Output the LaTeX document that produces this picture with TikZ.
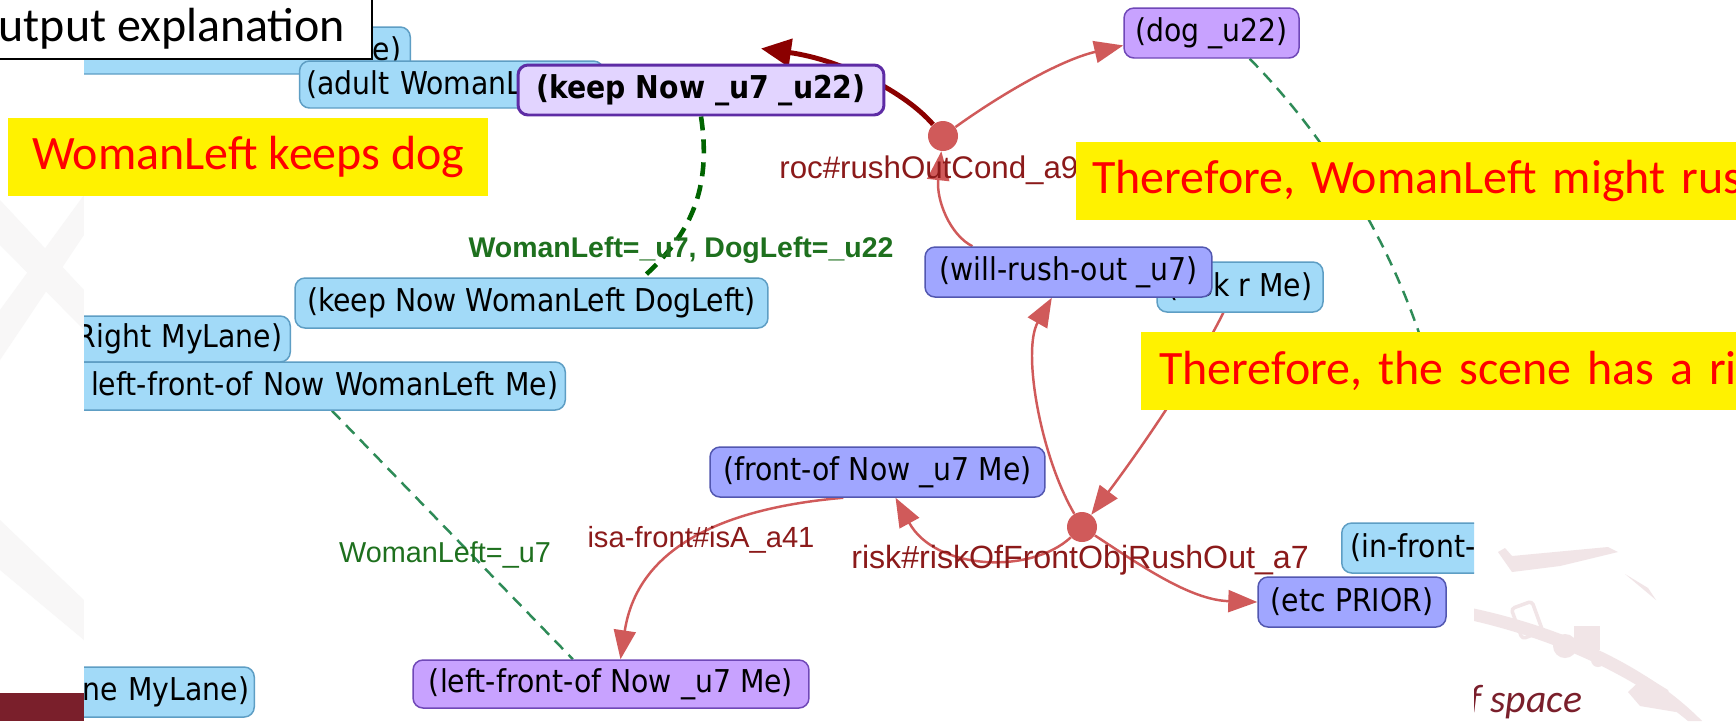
\documentclass[tikz,border=0pt]{standalone}
\usepackage{fontspec}
\usepackage{tikz}
\usetikzlibrary{arrows.meta, positioning, calc, backgrounds}

\newfontfamily\calfont{Carlito}
\newfontfamily\boxfont[FakeStretch=0.9]{DejaVu Sans}
\newfontfamily\lblfont{Liberation Sans}

\definecolor{factblue}{HTML}{A2DAF8}
\definecolor{factedge}{HTML}{5E9EC4}
\definecolor{keepfill}{HTML}{E2D4FF}
\definecolor{keepedge}{HTML}{5E2CA5}
\definecolor{varfill}{HTML}{C8A2FF}
\definecolor{varedge}{HTML}{7048B8}
\definecolor{rulefill}{HTML}{A0A6FF}
\definecolor{ruleedge}{HTML}{5257B0}
\definecolor{edgered}{HTML}{D05A5A}
\definecolor{darkred}{HTML}{8B0000}
\definecolor{lblred}{HTML}{8B1A1A}
\definecolor{bindgreen}{HTML}{006400}
\definecolor{thingreen}{HTML}{2E8B57}
\definecolor{lblgreen}{HTML}{1E701E}
\definecolor{slidered}{HTML}{7A1F2B}
\definecolor{logopink}{HTML}{F1E5E7}
\definecolor{wmark}{HTML}{F8F7F7}

\begin{document}
\begin{tikzpicture}[x=0.02cm, y=-0.02cm,
  box/.style={rounded corners=0.2cm, line width=0.85pt, inner sep=0pt,
    minimum height=1cm, font={\boxfont\fontsize{17.9pt}{20pt}\selectfont}},
  fact/.style={box, fill=factblue, draw=factedge},
  var/.style={box, fill=varfill, draw=varedge},
  rule/.style={box, fill=rulefill, draw=ruleedge},
  dot/.style={circle, fill=edgered, inner sep=0pt, minimum size=0.6cm},
  redlbl/.style={text=lblred, inner sep=0pt, font={\lblfont\fontsize{17.8pt}{19pt}\selectfont}},
  greenlbl/.style={text=lblgreen, inner sep=0pt, font={\lblfont\fontsize{16.4pt}{19pt}\selectfont}},
  rarrow/.style={draw=edgered, line width=1.4pt, -{Triangle[length=0.58cm, width=0.44cm]}},
  bindthick/.style={draw=bindgreen, line width=2.6pt, dash pattern=on 0.28cm off 0.18cm},
  bindthin/.style={draw=thingreen, line width=1.4pt, dash pattern=on 0.24cm off 0.16cm},
  note/.style={fill=yellow, text=red, anchor=north west, minimum height=1.56cm,
    inner ysep=0pt, align=left, font={\calfont\fontsize{27.3pt}{30pt}\selectfont}}
]

  \useasboundingbox (0,0) rectangle (1736,721);

  % slide under the screenshot
  \begin{pgfonlayer}{background}
    \fill[white] (0,0) rectangle (1736,721);
    \fill[wmark] (0,200) -- (84,290) -- (84,330) -- (0,245) -- cycle;
    \fill[wmark] (84,195) -- (84,235) -- (0,360) -- (0,310) -- cycle;
    \fill[wmark] (0,520) -- (84,600) -- (84,640) -- (0,570) -- cycle;
    % logo
    \fill[logopink] (1440,602) .. controls (1560,622) and (1650,668) .. (1702,721)
      -- (1688,721) .. controls (1636,678) and (1552,634) .. (1440,614) -- cycle;
    \fill[logopink] (1498,552) -- (1505,548) -- (1512,556) -- (1608,547) -- (1618,552)
      -- (1585,560) -- (1560,566) -- (1512,572) -- cycle;
    \fill[logopink] (1625,574) -- (1656,600) -- (1648,588) -- cycle;
    \draw[logopink, line width=2pt, rounded corners=2pt, rotate around={20:(1527,620)}]
      (1516,604) rectangle (1538,636);
    \fill[logopink] (1565,646) circle (12);
    \fill[logopink] (1574,626) rectangle (1600,650);
    \fill[logopink] (1598,660) circle (7);
    \fill[logopink] (1628,692) -- (1645,676) -- (1668,690) -- (1676,712) -- (1640,706) -- cycle;
    \node[font={\calfont\itshape\fontsize{22.6pt}{25pt}\selectfont}, text=slidered,
      anchor=base west, inner sep=0pt] (tagline) at (1469,712) {f space};
    % screenshot area
    \fill[white] (84,0) rectangle (1474,721);
  \end{pgfonlayer}
  \fill[slidered] (0,693) rectangle (84,721);

  % graph screenshot
  \begin{scope}
    \clip (84,0) rectangle (1474,721);

    \node[fact, anchor=east, text width=7cm, align=right, inner xsep=0.18cm,
      minimum height=0.94cm] (n_e) at (411,50.5) {e)};
    \node[fact, text width=5.8cm, align=left, inner xsep=0.14cm,
      minimum height=0.94cm] (n_adult) at (451.5,84.5) {(adult WomanLeft)};
    \node[box, fill=keepfill, draw=keepedge, line width=1.7pt, minimum width=7.32cm,
      font={\boxfont\bfseries\fontsize{17.9pt}{20pt}\selectfont}] (n_keep) at (701,90) {(keep Now \_u7 \_u22)};
    \node[var, minimum width=3.5cm] (n_dog) at (1211.5,33) {(dog \_u22)};

    \node[fact, minimum width=9.46cm] (n_keepwl) at (531.5,303) {(keep Now WomanLeft DogLeft)};
    \node[fact, anchor=east, text width=5.6cm, align=right, inner xsep=0.16cm,
      minimum height=0.92cm] (n_rml) at (291,339) {Right MyLane)};
    \node[fact, anchor=east, text width=10cm, align=right, inner xsep=0.14cm,
      minimum height=0.96cm] (n_lfo) at (566,386) {left-front-of Now WomanLeft Me)};

    \node[fact, minimum width=3.32cm] (n_risk) at (1240,287) {(risk r Me)};
    \node[rule, minimum width=5.74cm] (n_will) at (1068.5,272) {(will-rush-out \_u7)};
    \node[rule, minimum width=6.7cm] (n_front) at (877.5,472) {(front-of Now \_u7 Me)};
    \node[var, minimum width=7.92cm, minimum height=0.96cm] (n_lf7) at (611,684) {(left-front-of Now \_u7 Me)};
    \node[fact, anchor=east, text width=4cm, align=right, inner xsep=0.1cm] (n_nml) at (255,692) {ne MyLane)};
    \node[fact, anchor=west, text width=5cm, align=left, inner xsep=0.18cm] (n_infront) at (1341,548) {(in-front-};
    \node[rule, minimum width=3.76cm] (n_etc) at (1352,602) {(etc PRIOR)};

    % rule instances
    \node[dot] (dot1) at (943,136) {};
    \node[dot] (dot2) at (1082,527) {};

    % labels
    \node[redlbl, anchor=west] (l_roc) at (779,170) {roc\#rushOutCond\_a9};
    \node[redlbl, font={\lblfont\fontsize{18.3pt}{19pt}\selectfont}] (l_risk) at (1080,560) {risk\#riskOfFrontObjRushOut\_a7};
    \node[redlbl, font={\lblfont\fontsize{16.6pt}{19pt}\selectfont}] (l_isa) at (701,540) {isa-front\#isA\_a41};
    \node[greenlbl, font={\lblfont\bfseries\fontsize{16.2pt}{19pt}\selectfont}] (l_bind) at (681,250) {WomanLeft=\_u7, DogLeft=\_u22};
    \node[greenlbl] (l_wl) at (445,555) {WomanLeft=\_u7};
  \end{scope}

  % connectors
  \coordinate (dogtail) at (1432,375);
  \begin{pgfonlayer}{background}
    \draw[draw=darkred, line width=2.8pt, -{Triangle[length=0.6cm, width=0.55cm]}]
      (dot1) .. controls (905,92) and (842,60) .. ($(n_keep.north)+(60,-15)$);
    \draw[rarrow] (dot1) .. controls (1000,95) and (1060,60) .. (n_dog.188);
    \draw[rarrow] (n_will.165) .. controls (950,235) and (936,200) .. (dot1);
    \draw[rarrow] (dot2) .. controls (1040,455) and (1022,350) .. (n_will.237);
    \draw[rarrow] (n_risk.237) .. controls (1195,370) and (1140,450) .. (dot2);
    \draw[rarrow] (dot2) .. controls (1030,575) and (935,570) .. (n_front.305);
    \draw[rarrow] (dot2) .. controls (1140,565) and (1190,600) .. (n_etc.west);
    \draw[rarrow] (n_front.217) .. controls (760,505) and (640,530) .. (n_lf7.69);
    \draw[bindthick] (n_keep.south) .. controls (712,190) and (690,235) .. (n_keepwl.13);
    \draw[bindthin] ($(n_lfo.south east)+(-234,0)$) -- (n_lf7.147);
    \draw[bindthin] (n_dog.326) .. controls (1320,130) and (1395,240) .. (dogtail);
  \end{pgfonlayer}

  % explanation notes
  \node[note, minimum width=9.6cm, inner xsep=0pt] (note_keep) at (8,118) {WomanLeft keeps dog};
  \node[note, text width=13cm, inner xsep=0.32cm] (note_rush) at (1076,142) {Therefore, WomanLeft might rus};
  \node[note, text width=12cm, inner xsep=0.36cm] (note_risk) at (1141,332) {Therefore, the scene has a ris};

  % slide title box
  \node[draw=black, fill=white, line width=0.9pt, anchor=south east, inner xsep=0.54cm,
    inner ysep=0.2cm, font={\calfont\fontsize{27.3pt}{30pt}\selectfont}] (outbox) at (373,60) {utput explanation};

\end{tikzpicture}
\end{document}
